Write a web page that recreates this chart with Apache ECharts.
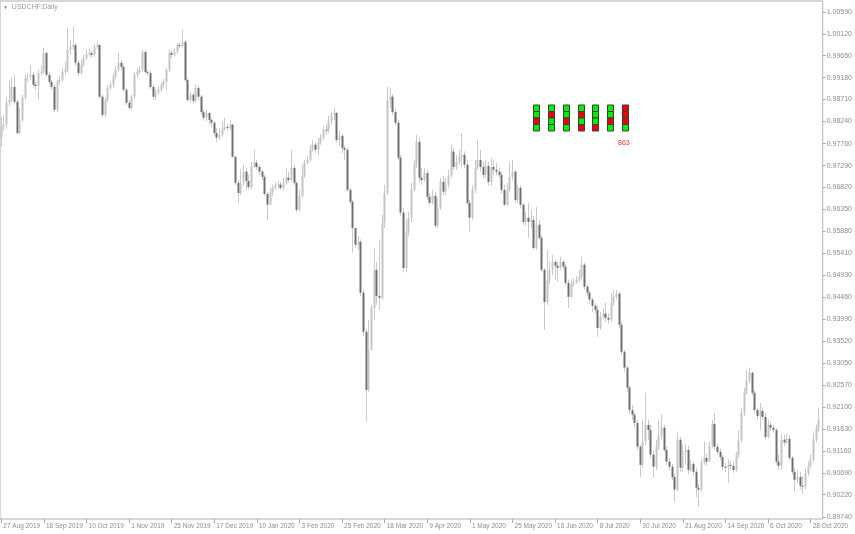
<!DOCTYPE html>
<html><head><meta charset="utf-8">
<script src="https://cdn.jsdelivr.net/npm/echarts@6/dist/echarts.min.js"></script>
<style>html,body{margin:0;padding:0;background:#fff}#c{width:855px;height:534px}</style>
</head><body><div id="c"></div>
<script>
const chartTitle = 'USDCHF,Daily';
const xTickLabels = ['27 Aug 2019','18 Sep 2019','10 Oct 2019','1 Nov 2019','25 Nov 2019','17 Dec 2019','10 Jan 2020','3 Feb 2020','25 Feb 2020','18 Mar 2020','9 Apr 2020','1 May 2020','25 May 2020','16 Jun 2020','8 Jul 2020','30 Jul 2020','21 Aug 2020','14 Sep 2020','6 Oct 2020','28 Oct 2020'];
const yTickLabels = ['1.00590','1.00120','0.99650','0.99180','0.98710','0.98240','0.97760','0.97290','0.96820','0.96350','0.95880','0.95410','0.94930','0.94460','0.93990','0.93520','0.93050','0.92570','0.92100','0.91630','0.91160','0.90690','0.90220','0.89740'];

const opens = [0.9789,0.9812,0.9817,0.9864,0.9870,0.9898,0.9866,0.9799,0.9827,0.9875,0.9917,0.9920,0.9924,0.9903,0.9900,0.9928,0.9930,0.9971,0.9924,0.9909,0.9898,0.9849,0.9909,0.9913,0.9930,0.9935,0.9978,0.9984,0.9988,0.9950,0.9928,0.9945,0.9960,0.9969,0.9971,0.9967,0.9984,0.9988,0.9877,0.9838,0.9870,0.9896,0.9903,0.9920,0.9935,0.9950,0.9941,0.9892,0.9864,0.9853,0.9877,0.9924,0.9930,0.9935,0.9973,0.9930,0.9928,0.9898,0.9877,0.9887,0.9892,0.9903,0.9909,0.9935,0.9971,0.9967,0.9973,0.9988,0.9986,0.9995,0.9913,0.9870,0.9881,0.9868,0.9896,0.9877,0.9844,0.9832,0.9842,0.9827,0.9821,0.9799,0.9789,0.9795,0.9808,0.9812,0.9810,0.9817,0.9748,0.9692,0.9670,0.9692,0.9716,0.9696,0.9683,0.9726,0.9735,0.9726,0.9716,0.9705,0.9668,0.9645,0.9673,0.9681,0.9686,0.9688,0.9681,0.9692,0.9703,0.9698,0.9724,0.9692,0.9634,0.9664,0.9707,0.9735,0.9741,0.9763,0.9774,0.9763,0.9780,0.9789,0.9806,0.9804,0.9825,0.9838,0.9842,0.9784,0.9793,0.9767,0.9763,0.9677,0.9651,0.9595,0.9559,0.9565,0.9456,0.9372,0.9247,0.9333,0.9423,0.9505,0.9449,0.9445,0.9606,0.9670,0.9870,0.9877,0.9844,0.9821,0.9746,0.9628,0.9509,0.9587,0.9617,0.9677,0.9731,0.9780,0.9703,0.9698,0.9713,0.9662,0.9649,0.9664,0.9600,0.9638,0.9694,0.9673,0.9688,0.9707,0.9759,0.9726,0.9737,0.9748,0.9752,0.9731,0.9649,0.9617,0.9677,0.9724,0.9741,0.9726,0.9709,0.9728,0.9694,0.9726,0.9720,0.9716,0.9709,0.9677,0.9645,0.9677,0.9705,0.9716,0.9655,0.9681,0.9645,0.9608,0.9617,0.9608,0.9612,0.9552,0.9602,0.9574,0.9505,0.9436,0.9484,0.9505,0.9522,0.9514,0.9509,0.9522,0.9512,0.9477,0.9447,0.9475,0.9479,0.9484,0.9490,0.9516,0.9469,0.9456,0.9441,0.9428,0.9419,0.9380,0.9404,0.9411,0.9402,0.9398,0.9434,0.9447,0.9454,0.9387,0.9329,0.9295,0.9252,0.9204,0.9194,0.9176,0.9125,0.9086,0.9136,0.9172,0.9161,0.9108,0.9082,0.9125,0.9149,0.9166,0.9118,0.9093,0.9082,0.9060,0.9033,0.9140,0.9080,0.9114,0.9118,0.9075,0.9088,0.9071,0.9037,0.9033,0.9090,0.9101,0.9093,0.9127,0.9174,0.9125,0.9114,0.9103,0.9082,0.9080,0.9086,0.9084,0.9075,0.9108,0.9140,0.9198,0.9241,0.9267,0.9284,0.9241,0.9204,0.9191,0.9202,0.9189,0.9146,0.9172,0.9166,0.9161,0.9093,0.9084,0.9140,0.9134,0.9142,0.9101,0.9071,0.9054,0.9060,0.9041,0.9039,0.9067,0.9084,0.9097,0.9140,0.9166];

const highs = [0.9834,0.9838,0.9875,0.9913,0.9920,0.9924,0.9870,0.9853,0.9881,0.9924,0.9928,0.9945,0.9930,0.9909,0.9935,0.9943,0.9982,0.9973,0.9930,0.9913,0.9903,0.9913,0.9922,0.9939,0.9952,1.0025,0.9999,1.0027,0.9993,0.9956,0.9956,0.9967,0.9978,0.9980,0.9976,0.9991,0.9995,0.9991,0.9881,0.9875,0.9903,0.9909,0.9926,0.9943,0.9971,0.9956,0.9945,0.9896,0.9870,0.9881,0.9930,0.9939,0.9943,0.9978,0.9978,0.9935,0.9932,0.9903,0.9892,0.9900,0.9909,0.9915,0.9939,0.9978,0.9976,0.9980,0.9993,0.9993,1.0021,0.9999,0.9917,0.9887,0.9885,0.9903,0.9900,0.9881,0.9849,0.9849,0.9844,0.9832,0.9825,0.9810,0.9810,0.9823,0.9832,0.9819,0.9827,0.9819,0.9750,0.9698,0.9720,0.9731,0.9724,0.9709,0.9737,0.9763,0.9741,0.9731,0.9720,0.9709,0.9673,0.9681,0.9688,0.9692,0.9696,0.9694,0.9703,0.9724,0.9716,0.9763,0.9731,0.9694,0.9677,0.9731,0.9741,0.9750,0.9774,0.9784,0.9780,0.9789,0.9797,0.9814,0.9817,0.9836,0.9844,0.9853,0.9844,0.9804,0.9797,0.9771,0.9767,0.9681,0.9655,0.9595,0.9578,0.9570,0.9462,0.9376,0.9398,0.9430,0.9552,0.9522,0.9570,0.9623,0.9688,0.9898,0.9896,0.9883,0.9853,0.9827,0.9752,0.9638,0.9612,0.9630,0.9692,0.9741,0.9795,0.9789,0.9724,0.9724,0.9720,0.9670,0.9677,0.9673,0.9660,0.9703,0.9707,0.9703,0.9720,0.9774,0.9767,0.9752,0.9763,0.9799,0.9759,0.9741,0.9655,0.9686,0.9741,0.9784,0.9763,0.9737,0.9741,0.9737,0.9746,0.9741,0.9735,0.9724,0.9716,0.9688,0.9692,0.9735,0.9741,0.9720,0.9688,0.9686,0.9647,0.9630,0.9649,0.9634,0.9621,0.9640,0.9612,0.9578,0.9509,0.9548,0.9522,0.9537,0.9526,0.9522,0.9533,0.9526,0.9516,0.9484,0.9484,0.9488,0.9492,0.9505,0.9533,0.9520,0.9473,0.9460,0.9445,0.9434,0.9428,0.9415,0.9423,0.9434,0.9413,0.9456,0.9462,0.9462,0.9458,0.9393,0.9333,0.9299,0.9256,0.9215,0.9198,0.9183,0.9129,0.9183,0.9241,0.9183,0.9172,0.9118,0.9140,0.9183,0.9194,0.9172,0.9125,0.9101,0.9088,0.9067,0.9157,0.9146,0.9129,0.9131,0.9127,0.9097,0.9093,0.9080,0.9045,0.9097,0.9136,0.9110,0.9136,0.9183,0.9198,0.9131,0.9121,0.9108,0.9090,0.9097,0.9095,0.9093,0.9114,0.9161,0.9209,0.9252,0.9290,0.9295,0.9286,0.9247,0.9209,0.9219,0.9209,0.9198,0.9183,0.9179,0.9172,0.9166,0.9108,0.9151,0.9151,0.9153,0.9149,0.9105,0.9080,0.9075,0.9071,0.9062,0.9080,0.9093,0.9108,0.9155,0.9172,0.9207];

const lows = [0.9769,0.9804,0.9810,0.9857,0.9866,0.9862,0.9795,0.9797,0.9823,0.9870,0.9909,0.9913,0.9896,0.9892,0.9870,0.9922,0.9926,0.9920,0.9905,0.9892,0.9844,0.9844,0.9903,0.9909,0.9924,0.9930,0.9967,0.9978,0.9943,0.9922,0.9924,0.9941,0.9956,0.9963,0.9960,0.9963,0.9980,0.9872,0.9832,0.9834,0.9866,0.9892,0.9896,0.9915,0.9930,0.9935,0.9887,0.9859,0.9849,0.9849,0.9872,0.9917,0.9926,0.9930,0.9926,0.9922,0.9894,0.9870,0.9870,0.9881,0.9887,0.9896,0.9892,0.9930,0.9960,0.9963,0.9969,0.9980,0.9982,0.9909,0.9866,0.9864,0.9862,0.9864,0.9870,0.9838,0.9827,0.9825,0.9817,0.9812,0.9793,0.9780,0.9784,0.9791,0.9804,0.9804,0.9806,0.9746,0.9688,0.9649,0.9666,0.9686,0.9677,0.9677,0.9677,0.9724,0.9720,0.9709,0.9698,0.9664,0.9612,0.9645,0.9664,0.9677,0.9679,0.9677,0.9677,0.9688,0.9692,0.9694,0.9688,0.9628,0.9630,0.9660,0.9703,0.9731,0.9737,0.9759,0.9756,0.9752,0.9774,0.9784,0.9795,0.9799,0.9817,0.9827,0.9778,0.9771,0.9756,0.9741,0.9673,0.9647,0.9542,0.9552,0.9548,0.9449,0.9363,0.9179,0.9243,0.9333,0.9398,0.9430,0.9419,0.9441,0.9595,0.9666,0.9853,0.9838,0.9815,0.9741,0.9621,0.9501,0.9500,0.9578,0.9608,0.9673,0.9724,0.9694,0.9688,0.9694,0.9655,0.9643,0.9645,0.9595,0.9595,0.9634,0.9666,0.9666,0.9681,0.9703,0.9720,0.9720,0.9731,0.9726,0.9724,0.9645,0.9587,0.9612,0.9670,0.9720,0.9716,0.9703,0.9703,0.9686,0.9686,0.9709,0.9709,0.9703,0.9670,0.9641,0.9641,0.9673,0.9698,0.9649,0.9649,0.9638,0.9602,0.9600,0.9574,0.9595,0.9548,0.9548,0.9570,0.9501,0.9376,0.9430,0.9475,0.9494,0.9484,0.9479,0.9505,0.9505,0.9471,0.9423,0.9445,0.9469,0.9475,0.9479,0.9484,0.9462,0.9449,0.9432,0.9415,0.9411,0.9361,0.9376,0.9398,0.9393,0.9389,0.9393,0.9428,0.9441,0.9380,0.9322,0.9286,0.9243,0.9196,0.9183,0.9166,0.9118,0.9060,0.9080,0.9129,0.9140,0.9101,0.9060,0.9075,0.9118,0.9140,0.9114,0.9086,0.9075,0.9054,0.9007,0.9028,0.9071,0.9071,0.9086,0.9067,0.9071,0.9062,0.9017,0.8996,0.9028,0.9086,0.9084,0.9093,0.9123,0.9118,0.9108,0.9097,0.9075,0.9071,0.9047,0.9075,0.9069,0.9071,0.9101,0.9134,0.9191,0.9237,0.9262,0.9235,0.9198,0.9183,0.9161,0.9183,0.9140,0.9142,0.9159,0.9155,0.9086,0.9075,0.9075,0.9127,0.9131,0.9095,0.9065,0.9028,0.9047,0.9033,0.9024,0.9033,0.9062,0.9080,0.9093,0.9134,0.9157];

const closes = [0.9812,0.9817,0.9864,0.9870,0.9898,0.9866,0.9799,0.9827,0.9875,0.9917,0.9920,0.9924,0.9903,0.9900,0.9928,0.9930,0.9971,0.9924,0.9909,0.9898,0.9849,0.9909,0.9913,0.9930,0.9935,0.9978,0.9984,0.9988,0.9950,0.9928,0.9945,0.9960,0.9969,0.9971,0.9967,0.9984,0.9988,0.9877,0.9838,0.9870,0.9896,0.9903,0.9920,0.9935,0.9950,0.9941,0.9892,0.9864,0.9853,0.9877,0.9924,0.9930,0.9935,0.9973,0.9930,0.9928,0.9898,0.9877,0.9887,0.9892,0.9903,0.9909,0.9935,0.9971,0.9967,0.9973,0.9988,0.9986,0.9995,0.9913,0.9870,0.9881,0.9868,0.9896,0.9877,0.9844,0.9832,0.9842,0.9827,0.9821,0.9799,0.9789,0.9795,0.9808,0.9812,0.9810,0.9817,0.9748,0.9692,0.9670,0.9692,0.9716,0.9696,0.9683,0.9726,0.9735,0.9726,0.9716,0.9705,0.9668,0.9645,0.9673,0.9681,0.9686,0.9688,0.9681,0.9692,0.9703,0.9698,0.9724,0.9692,0.9634,0.9664,0.9707,0.9735,0.9741,0.9763,0.9774,0.9763,0.9780,0.9789,0.9806,0.9804,0.9825,0.9838,0.9842,0.9784,0.9793,0.9767,0.9763,0.9677,0.9651,0.9595,0.9559,0.9565,0.9456,0.9372,0.9247,0.9333,0.9423,0.9505,0.9449,0.9445,0.9606,0.9670,0.9870,0.9877,0.9844,0.9821,0.9746,0.9628,0.9509,0.9587,0.9617,0.9677,0.9731,0.9780,0.9703,0.9698,0.9713,0.9662,0.9649,0.9664,0.9600,0.9638,0.9694,0.9673,0.9688,0.9707,0.9759,0.9726,0.9737,0.9748,0.9752,0.9731,0.9649,0.9617,0.9677,0.9724,0.9741,0.9726,0.9709,0.9728,0.9694,0.9726,0.9720,0.9716,0.9709,0.9677,0.9645,0.9677,0.9705,0.9716,0.9655,0.9681,0.9645,0.9608,0.9617,0.9608,0.9612,0.9552,0.9602,0.9574,0.9505,0.9436,0.9484,0.9505,0.9522,0.9514,0.9509,0.9522,0.9512,0.9477,0.9447,0.9475,0.9479,0.9484,0.9490,0.9516,0.9469,0.9456,0.9441,0.9428,0.9419,0.9380,0.9404,0.9411,0.9402,0.9398,0.9434,0.9447,0.9454,0.9387,0.9329,0.9295,0.9252,0.9204,0.9194,0.9176,0.9125,0.9086,0.9136,0.9172,0.9161,0.9108,0.9082,0.9125,0.9149,0.9166,0.9118,0.9093,0.9082,0.9060,0.9033,0.9140,0.9080,0.9114,0.9118,0.9075,0.9088,0.9071,0.9037,0.9033,0.9090,0.9101,0.9093,0.9127,0.9174,0.9125,0.9114,0.9103,0.9082,0.9080,0.9086,0.9084,0.9075,0.9108,0.9140,0.9198,0.9241,0.9267,0.9284,0.9241,0.9204,0.9191,0.9202,0.9189,0.9146,0.9172,0.9166,0.9161,0.9093,0.9084,0.9140,0.9134,0.9142,0.9101,0.9071,0.9054,0.9060,0.9041,0.9039,0.9067,0.9084,0.9097,0.9140,0.9166,0.9183];

// signal panel: one column per block, rows top->bottom, 1 = green, 0 = red
const signalColumns = [[1,1,0,1],[1,0,1,1],[1,1,0,1],[1,0,1,0],[1,1,1,0],[1,1,0,1],[0,0,0,1]];
const signalCount = '863';

const wickColor = '#c9c9c9', bullColor = '#c4c4c4', bearColor = '#6e6e6e';
const axisTextColor = '#8c8c8c';

const categories = closes.map((_, i) => String(i));
const candleData = closes.map((c, i) => [i, opens[i], c, lows[i], highs[i]]);
const sigData = [];
signalColumns.forEach((col, ci) => col.forEach((s, ri) => sigData.push([ci, ri, s])));
const yVals = yTickLabels.map(Number);
const every16 = (i) => i % 16 === 0;

function renderCandle(params, api) {
  const i = api.value(0);
  const o = api.value(1), c = api.value(2), lo = api.value(3), hi = api.value(4);
  const ph = api.coord([i, hi]), pl = api.coord([i, lo]);
  const po = api.coord([i, o]), pc = api.coord([i, c]);
  const x = Math.floor(ph[0]);
  const top = Math.min(po[1], pc[1]), bot = Math.max(po[1], pc[1]);
  const up = c >= o;
  return { type: 'group', children: [
    { type: 'rect', shape: { x: x, y: ph[1], width: 1, height: Math.max(pl[1] - ph[1], 1) }, style: { fill: wickColor } },
    { type: 'rect', shape: { x: x - 0.5, y: top, width: 2, height: Math.max(bot - top, 1) }, style: { fill: up ? bullColor : bearColor } }
  ]};
}
function renderSignal(params, api) {
  const p = api.coord([api.value(0), api.value(1)]);
  const s = api.size([1, 1]);
  const w = 6, h = s[1];
  return { type: 'rect', shape: { x: Math.round(p[0] - w / 2) + 0.5, y: p[1] - h / 2, width: w, height: h },
    style: { fill: api.value(2) ? '#00f000' : '#f00000', stroke: '#3c3c3c', lineWidth: 1 } };
}

const chart = echarts.init(document.getElementById('c'), null, { renderer: 'canvas', width: 855, height: 534 });
chart.setOption({
  animation: false,
  backgroundColor: '#ffffff',
  textStyle: { fontFamily: 'Liberation Sans, Arial, sans-serif' },
  title: {
    text: '{t|▼}  ' + chartTitle, left: 3, top: 4, padding: 0,
    textStyle: { fontSize: 7, color: '#9a9a9a', fontWeight: 'normal', fontFamily: 'Liberation Sans',
      rich: { t: { fontSize: 5, color: '#8a8a8a' } } }
  },
  graphic: [{ type: 'text', left: 618, top: 140, style: { text: signalCount, fill: '#e83030', font: '7px Liberation Sans' } }],
  grid: [
    { left: 0, right: 29, top: 1, bottom: 15, show: true, borderColor: '#b0b0b0', borderWidth: 1 },
    { left: 529, width: 103, top: 105, height: 26, show: false }
  ],
  xAxis: [
    { type: 'category', gridIndex: 0, data: categories, max: closes.length, boundaryGap: true,
      axisLine: { show: false },
      axisTick: { show: true, interval: every16, alignWithLabel: true, length: 4, lineStyle: { color: '#a8a8a8' } },
      axisLabel: { interval: every16, formatter: (v, i) => xTickLabels[i / 16], align: 'left', margin: 4,
        fontSize: 6.5, color: axisTextColor, padding: [0, 0, 0, 2] },
      splitLine: { show: false } },
    { type: 'category', gridIndex: 1, data: signalColumns.map((_, i) => String(i)), show: false }
  ],
  yAxis: [
    { type: 'value', gridIndex: 0, position: 'right', min: 0.89697, max: 1.00826,
      axisLine: { show: false },
      axisTick: { show: true, customValues: yVals, length: 3, lineStyle: { color: '#a8a8a8' } },
      axisLabel: { customValues: yVals, formatter: (v) => v.toFixed(5), fontSize: 7, color: axisTextColor, margin: 4 },
      splitLine: { show: false } },
    { type: 'category', gridIndex: 1, data: ['0', '1', '2', '3'], inverse: true, show: false }
  ],
  series: [
    { type: 'custom', xAxisIndex: 0, yAxisIndex: 0, data: candleData, renderItem: renderCandle,
      encode: { x: 0, y: [1, 2, 3, 4] }, clip: true },
    { type: 'custom', xAxisIndex: 1, yAxisIndex: 1, data: sigData, renderItem: renderSignal, encode: { x: 0, y: 1 } }
  ]
});
</script>
</body></html>
